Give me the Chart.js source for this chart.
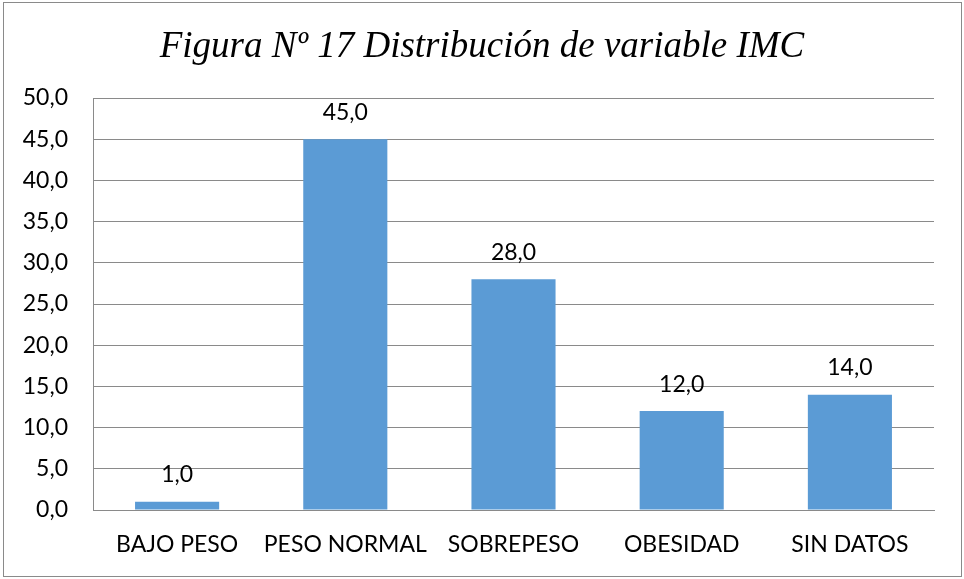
<!DOCTYPE html>
<html>
<head>
<meta charset="utf-8">
<script src="https://cdn.jsdelivr.net/npm/chart.js@4"></script>
<style>
  html, body { margin: 0; padding: 0; background: #fff; }
  #wrap { width: 964px; height: 579px; }
</style>
</head>
<body>
<div id="wrap"><canvas id="imc"></canvas></div>
<script>
const chartTitle = 'Figura Nº 17 Distribución de variable IMC';
const categories = ['BAJO PESO', 'PESO NORMAL', 'SOBREPESO', 'OBESIDAD', 'SIN DATOS'];
const values = [1.0, 45.0, 28.0, 12.0, 14.0];
const yTicks = [0, 5, 10, 15, 20, 25, 30, 35, 40, 45, 50];

const fmt = v => v.toFixed(1).replace('.', ',');
const tickFont = { family: 'Lato, "Open Sans", sans-serif', size: 23 };

// title, value labels above each bar, outer frame
const extras = {
  id: 'extras',
  afterDatasetsDraw(chart) {
    const ctx = chart.ctx;
    const meta = chart.getDatasetMeta(0);
    ctx.save();
    ctx.font = tickFont.size + 'px ' + tickFont.family;
    ctx.fillStyle = '#000';
    ctx.textAlign = 'center';
    ctx.textBaseline = 'middle';
    meta.data.forEach((bar, i) => {
      ctx.fillText(fmt(values[i]), bar.x, bar.y - 27);
    });

    ctx.font = 'italic 37px "Liberation Serif", "Times New Roman", serif';
    ctx.textBaseline = 'alphabetic';
    ctx.fillText(chartTitle, chart.width / 2, 57);

    ctx.strokeStyle = '#8a8a8a';
    ctx.lineWidth = 1;
    ctx.strokeRect(3.5, 2.5, chart.width - 6, chart.height - 5);
    ctx.restore();
  }
};

new Chart(document.getElementById('imc').getContext('2d'), {
  type: 'bar',
  data: {
    labels: categories,
    datasets: [{
      data: values,
      backgroundColor: '#5B9BD5',
      borderWidth: 0,
      barPercentage: 0.5,
      categoryPercentage: 1.0
    }]
  },
  options: {
    responsive: true,
    maintainAspectRatio: false,
    animation: false,
    layout: { padding: { left: 0, right: 30, top: 98, bottom: 0 } },
    plugins: {
      legend: { display: false },
      tooltip: { enabled: false },
      title: { display: false }
    },
    scales: {
      x: {
        grid: { display: false, drawTicks: false },
        border: { display: true, color: '#8a8a8a', width: 1 },
        ticks: { color: '#000', font: tickFont, padding: 21, maxRotation: 0, autoSkip: false },
        afterFit(scale) { scale.height = 69; }
      },
      y: {
        min: 0,
        max: 50,
        afterBuildTicks(scale) { scale.ticks = yTicks.map(v => ({ value: v })); },
        grid: { color: '#8a8a8a', lineWidth: 1, drawTicks: false },
        border: { display: true, color: '#8a8a8a', width: 1 },
        ticks: { color: '#000', font: tickFont, padding: 25, callback: v => fmt(v) },
        afterFit(scale) { scale.width = 93; }
      }
    }
  },
  plugins: [extras]
});
</script>
</body>
</html>
